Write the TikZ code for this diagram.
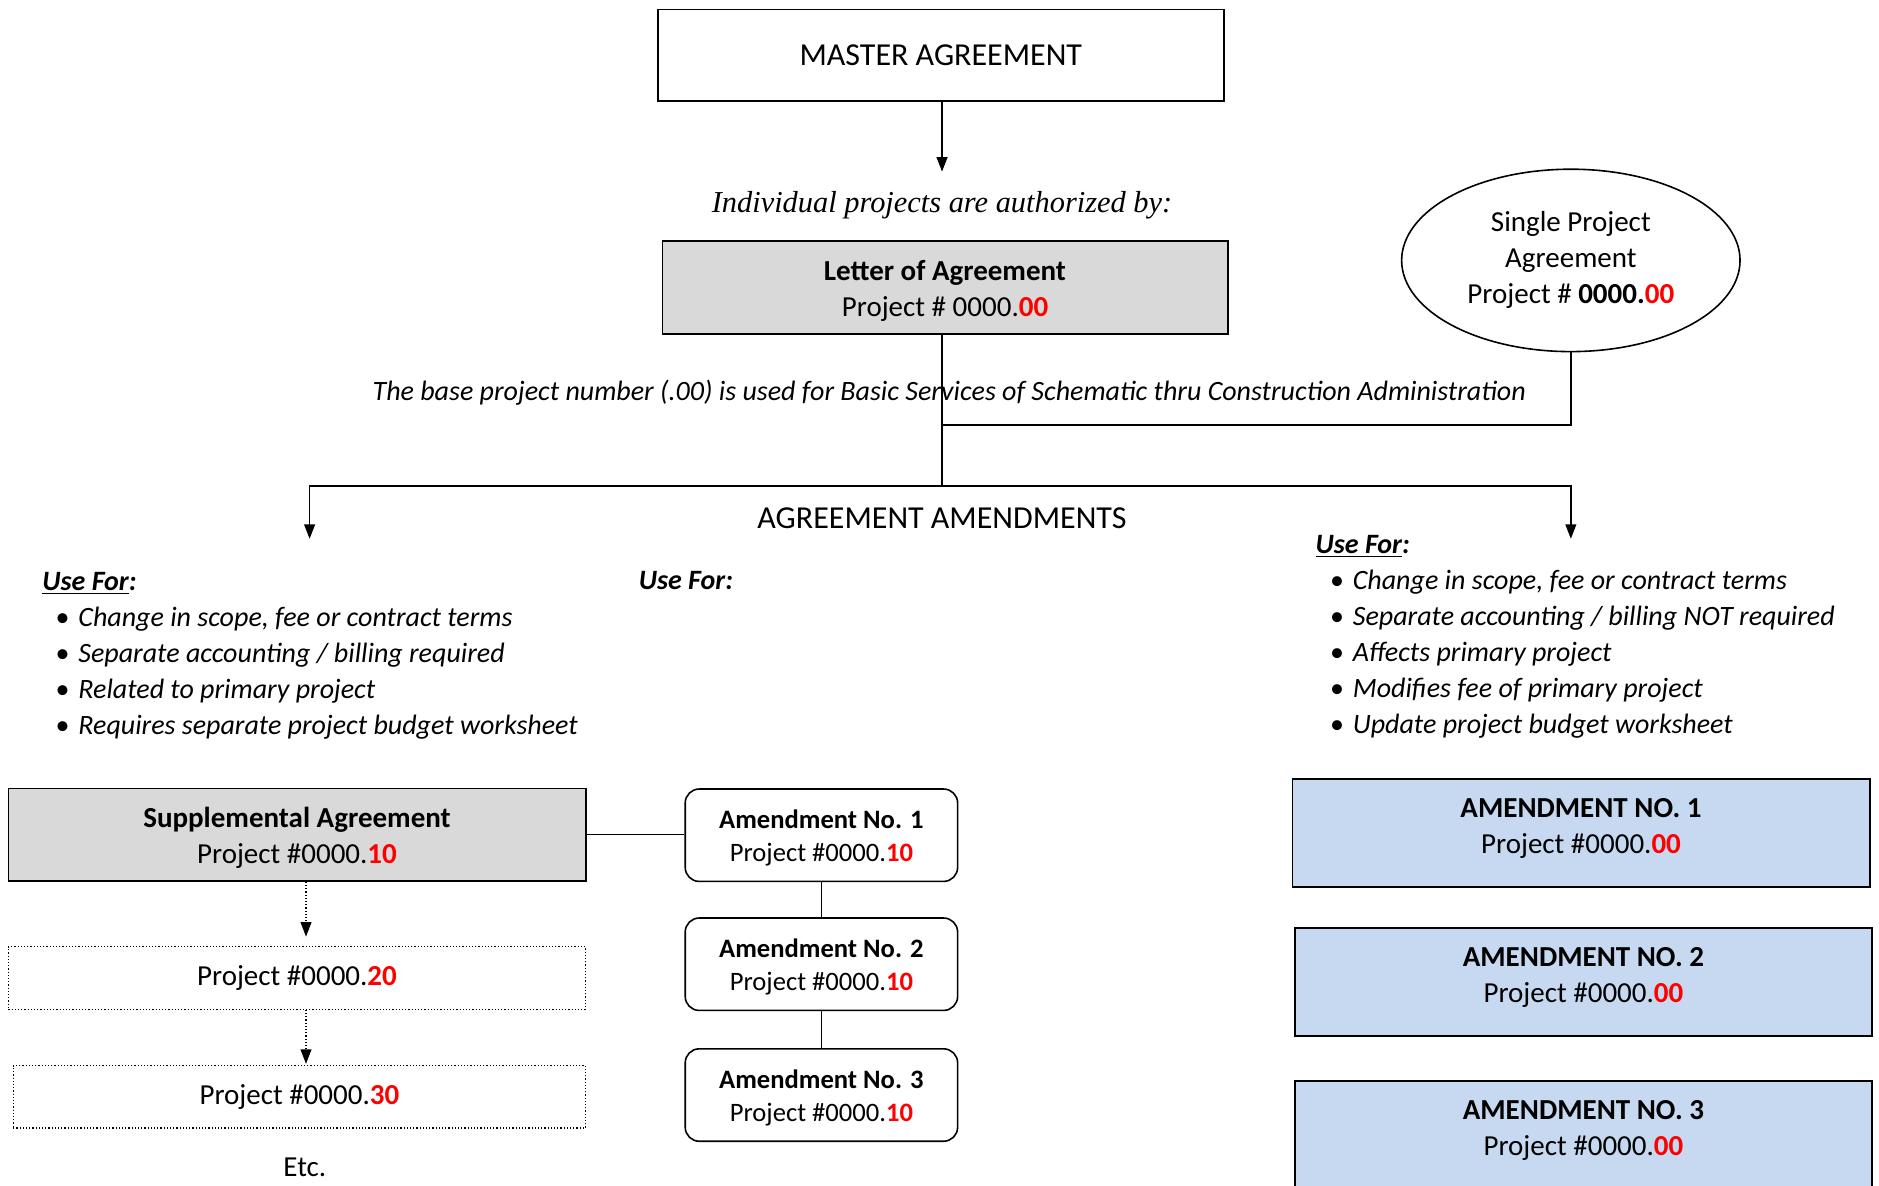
\documentclass[tikz,border=0pt]{standalone}
\usepackage{fontspec}
\setmainfont{Carlito}
\newfontfamily\serifit{Liberation Serif}
\usetikzlibrary{arrows.meta}
\usetikzlibrary{shapes.geometric}
\definecolor{numred}{HTML}{FF0000}
\definecolor{boxgray}{HTML}{D9D9D9}
\definecolor{boxblue}{HTML}{C6D9F1}
\newcommand{\rnum}[1]{\textcolor{numred}{\textbf{#1}}}
\newcommand{\listfont}{\fontsize{14}{18}\selectfont}

\tikzset{
    plainbox/.style={draw, line width=0.9pt, inner sep=0pt, align=center},
    graybox/.style={plainbox, fill=boxgray},
    dotbox/.style={draw, densely dotted, line width=0.6pt, inner sep=0pt},
    roundbox/.style={draw, line width=0.8pt, rounded corners=7pt, inner sep=0pt,
        minimum width=136.2pt, minimum height=46.2pt},
    roundtext/.style={align=center, font=\fontsize{13.3}{16.5}\selectfont},
    bluebox/.style={draw, line width=0.9pt, fill=boxblue, minimum width=288.6pt, minimum height=54pt},
    conn/.style={line width=0.7pt},
    arrowline/.style={conn, -{Triangle[width=5.4pt,length=7.2pt]}},
    dotarrow/.style={line width=0.6pt, densely dotted, -{Triangle[width=5.4pt,length=7.2pt]}},
    useitem/.style={anchor=west, inner sep=0pt, font=\listfont\itshape,
        execute at begin node={\makebox[11.4pt][l]{\upshape\textbullet}}},
    usehead/.style={anchor=west, inner sep=0pt, font=\listfont\bfseries\itshape},
    capstext/.style={font=\fontsize{16}{19}\selectfont}
}

\begin{document}
\begin{tikzpicture}[x=0.6pt, y=-0.6pt, every node/.style={font=\fontsize{14.5}{18}\selectfont}]
    \useasboundingbox (0,0) rectangle (1565.8,987.5);
    \clip (0,0) rectangle (1565.8,987.5);

    % Draw top part
    \node[plainbox, capstext, minimum width=283.2pt, minimum height=45.6pt] (master) at (784,46) {MASTER AGREEMENT};
    \node[font=\serifit\itshape\fontsize{15.2}{18}\selectfont] (authby) at (785,171) {Individual projects are authorized by:};
    \node[graybox, minimum width=282.6pt, minimum height=46.2pt] (letter) at (787.5,239.5) {};
    \node[align=center] (lettertext) at ([yshift=-1.8pt]letter.center)
        {\textbf{Letter of Agreement}\\Project \# 0000.\rnum{00}};
    \node[ellipse, draw, line width=0.8pt, inner sep=0pt, align=center,
          minimum width=169.2pt, minimum height=91.2pt] (single) at (1309,217)
        {Single Project\\Agreement\\Project \# \textbf{0000.}\rnum{00}};
    \node[font=\listfont\itshape] (basenote) at (791,327)
        {The base project number (.00) is used for Basic Services of Schematic thru Construction Administration};
    \node[capstext] (amendhead) at (785,432) {AGREEMENT AMENDMENTS};

    \coordinate (authtip) at (785,143);
    \coordinate (join) at (785,354);
    \coordinate (split) at (785,405);
    \coordinate (lefttip) at (258,449);
    \coordinate (righttip) at (1309,449);

    % Draw connectors
    \draw[arrowline] (master.south -| authtip) -- (authtip);
    \draw[conn] (letter.south -| split) -- (split);
    \draw[conn] (single.south) |- (join);
    \draw[arrowline] (split) -| (lefttip);
    \draw[arrowline] (split) -| (righttip);

    % Draw use for lists
    \node[usehead] (leftuse) at (35,486.5) {\underline{Use For}:};
    \foreach \t [count=\i] in {{Change in scope, fee or contract terms},
                               {Separate accounting / billing required},
                               {Related to primary project},
                               {Requires separate project budget worksheet}} {
        \node[useitem] (leftitem\i) at (46,486+30*\i) {\t};
    }
    \node[usehead] (miduse) at (532,483.5) {Use For:};
    \node[usehead] (rightuse) at (1096,455.5) {\underline{Use For}:};
    \foreach \t [count=\i] in {{Change in scope, fee or contract terms},
                               {Separate accounting / billing NOT required},
                               {Affects primary project},
                               {Modifies fee of primary project},
                               {Update project budget worksheet}} {
        \node[useitem] (rightitem\i) at (1108,455+30*\i) {\t};
    }

    % Draw supplemental column
    \node[graybox, minimum width=288.6pt, minimum height=46.2pt] (supp) at (247.5,695.5) {};
    \node[align=center] (supptext) at ([yshift=-1.8pt]supp.center)
        {\textbf{Supplemental Agreement}\\Project \#0000.\rnum{10}};
    \node[dotbox, minimum width=288.6pt, minimum height=31.2pt] (projB) at (247.5,815) {Project \#0000.\rnum{20}};
    \node[dotbox, minimum width=286.2pt, minimum height=31.2pt] (projC) at (249.5,914) {Project \#0000.\rnum{30}};
    \node (etc) at (254,973) {Etc.};
    \draw[dotarrow, shorten >=4.8pt] ([xshift=4.5pt]supp.south) -- ([xshift=4.5pt]projB.north);
    \draw[dotarrow] ([xshift=4.5pt]projB.south) -- ([xshift=4.5pt,yshift=0.6pt]projB.south |- projC.north);

    % Draw amendment column
    \foreach \n/\y in {1/696, 2/803.5, 3/912.5} {
        \node[roundbox] (amend\n) at (684.5,\y) {};
        \node[roundtext] (amendtext\n) at ([yshift=-1.5pt]amend\n.center)
            {\textbf{Amendment No. \n}\\Project \#0000.\rnum{10}};
    }
    \draw[conn] (supp.east) -- (supp.east -| amend1.west);
    \draw[conn] (amend1.south) -- (amend2.north);
    \draw[conn] (amend2.south) -- (amend3.north);

    % Draw right column
    \foreach \n/\x/\y in {1/1317.5/694, 2/1319.5/818, 3/1319.5/946} {
        \node[bluebox] (amdbox\n) at (\x,\y) {};
        \node[align=center] (amdtext\n) at ([yshift=-25.2pt]amdbox\n.north)
            {\textbf{AMENDMENT NO. \n}\\Project \#0000.\rnum{00}};
    }
\end{tikzpicture}
\end{document}
